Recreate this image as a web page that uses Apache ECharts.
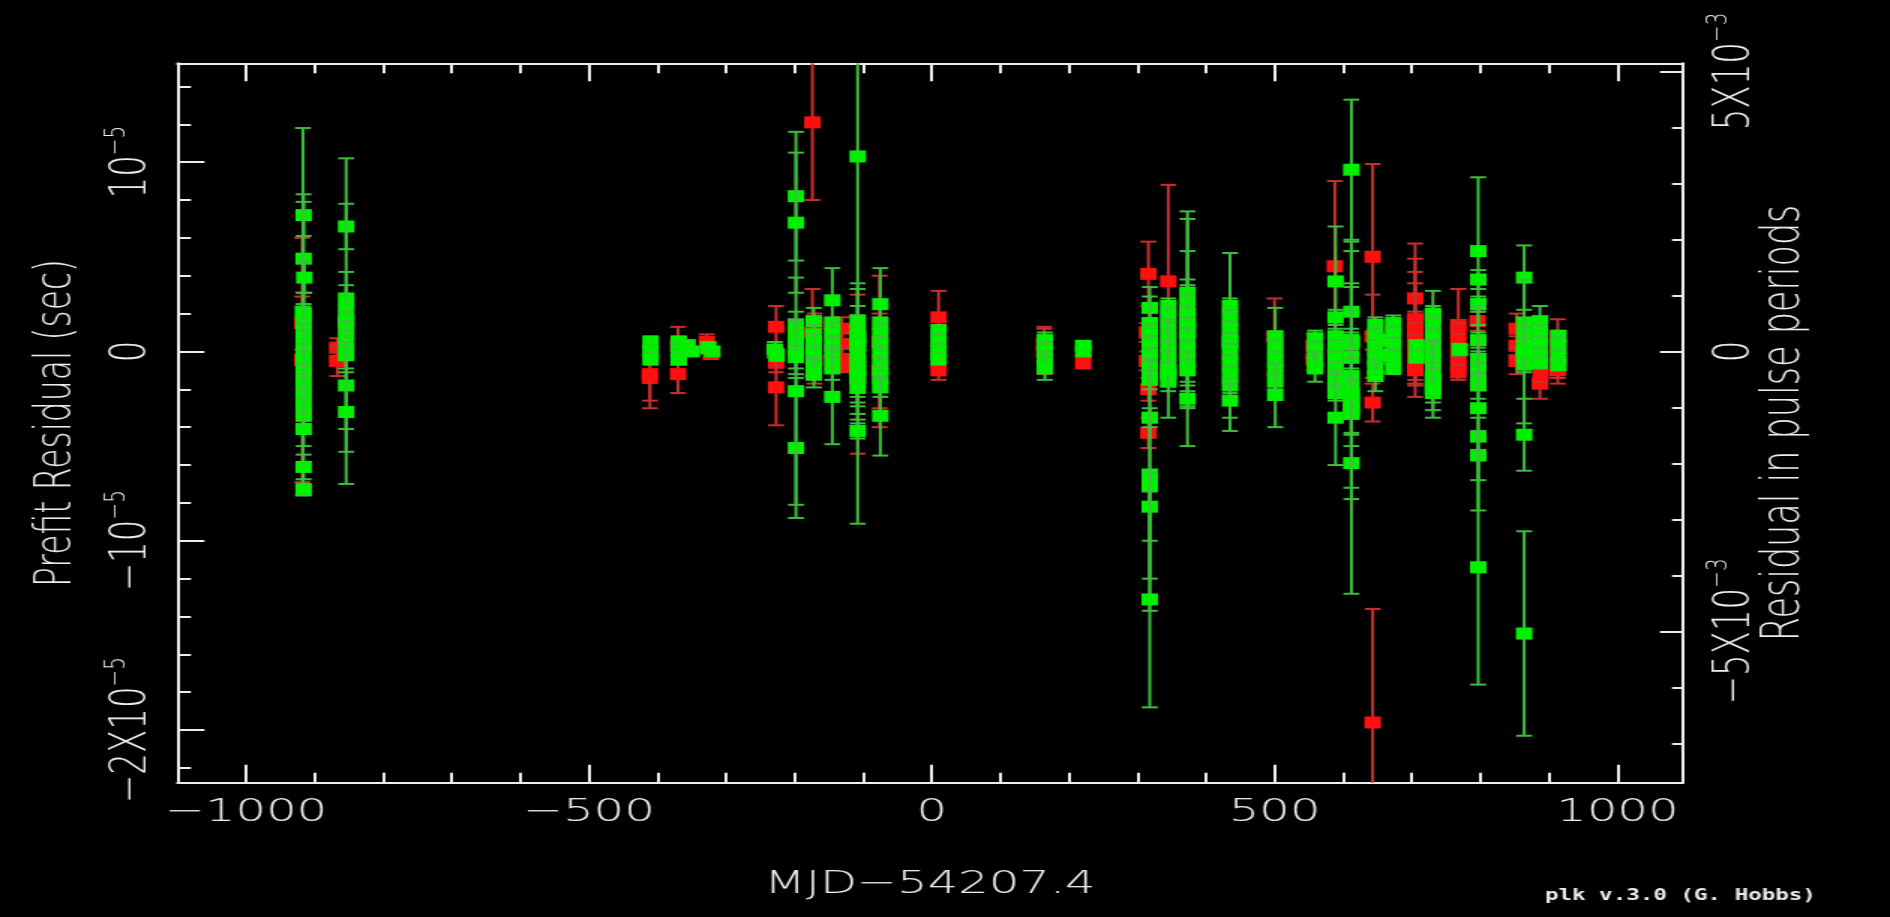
<!DOCTYPE html>
<html>
<head>
<meta charset="utf-8">
<title>plk – prefit timing residuals</title>
<script src="https://cdn.jsdelivr.net/npm/echarts@6.0.0/dist/echarts.min.js"></script>
<style>
  html, body { margin: 0; padding: 0; background: #000; overflow: hidden; }
  /* plk output is drawn on a narrow canvas and stretched horizontally */
  #plot { width: 1260px; height: 917px; transform: scaleX(1.5); transform-origin: 0 0; }
</style>
</head>
<body>
<div id="plot"></div>
<script>
// ---- axis ranges -------------------------------------------------------
const dayMin = -1100, dayMax = 1095;          // MJD - 54207.4
const resMin = -22.78, resMax = 15.22;        // prefit residual, microseconds
const periodUs = 2958;                        // spin period, microseconds

// ---- tick positions and labels ----------------------------------------
const dayMajor = [-1000, -500, 0, 500, 1000];
const dayMajorText = ['\u22121000', '\u2212500', '0', '500', '1000'];
const dayMinor = [-1000, -900, -800, -700, -600, -500, -400, -300, -200, -100, 0,
                  100, 200, 300, 400, 500, 600, 700, 800, 900, 1000];
const resMajor = [-20, -10, 0, 10];
const resMajorText = [['\u22122X10', '\u22125'], ['\u221210', '\u22125'], ['0', ''], ['10', '\u22125']];
const resMinor = [-22, -20, -18, -16, -14, -12, -10, -8, -6, -4, -2, 0, 2, 4, 6, 8, 10, 12, 14];
const phaseMajor = [-5, 0, 5];                // units of 1e-3 pulse periods
const phaseMajorText = [['\u22125X10', '\u22123'], ['0', ''], ['5X10', '\u22123']];
const phaseMinor = [-7, -6, -5, -4, -3, -2, -1, 0, 1, 2, 3, 4, 5];

// ---- TOAs: [day, residual (us), uncertainty (us)] ----------------------
const redToas = [
  [-918, -0.45, 6.45], [-918, 1.5, 1.4],
  [-867, 0.2, 0.5], [-867, -0.5, 0.8],
  [-411, -1.4, 1.6], [-411, -1.2, 1.4],
  [-370, -1.2, 1.0], [-370, 0.3, 1.0],
  [-328, 0.5, 0.4], [-322, -0.1, 0.3],
  [-227, 1.3, 1.1], [-227, -0.6, 0.5], [-227, -1.9, 2.0],
  [-174, 12.1, 4.1], [-174, 1.0, 2.3], [-171, 1.5, 0.5], [-171, -0.5, 1.2],
  [-131, 1.2, 0.6], [-131, 0.4, 0.6], [-131, -0.4, 0.6], [-131, -0.8, 0.3],
  [-108, -1.2, 4.2],
  [-76, 0.5, 3.5], [-76, -1.0, 3.0],
  [10, 1.8, 1.4], [10, -1.0, 0.5],
  [164, 0.4, 0.9], [164, 0.0, 1.2],
  [221, -0.6, 0.3],
  [316, 4.1, 1.7], [314, 1.0, 0.5], [314, -0.5, 0.5], [316, -2.0, 0.6], [316, -4.3, 0.8],
  [345, 3.7, 5.1],
  [500, 0.8, 2.0],
  [557, 0.3, 0.6], [557, -0.4, 0.6],
  [588, 4.5, 4.5],
  [643, 5.0, 4.9], [643, -2.7, 1.0], [643, -19.6, 6.0], [643, 0.8, 2.2],
  [705, 2.8, 2.9], [705, 1.6, 3.3], [705, 1.2, 3.0], [705, 0.6, 3.0], [705, 1.7, 0.4],
  [705, 1.1, 0.4], [705, 0.5, 0.4], [705, -0.1, 0.4], [705, -0.7, 0.4], [705, -1.0, 0.5],
  [768, 1.4, 1.9], [768, 1.1, 0.4], [768, 0.5, 0.4], [768, -0.1, 0.4], [768, -0.7, 0.4], [768, -1.1, 0.4],
  [796, 1.6, 0.5],
  [853, 1.2, 0.8], [853, 0.3, 0.5], [853, -0.5, 0.7],
  [887, -1.7, 0.8], [888, -1.2, 0.4],
  [913, 0.8, 0.9], [913, 0.2, 0.6], [913, -0.5, 0.9], [913, -1.0, 0.7]
];

const greenToas = [
  [-916, 7.2, 1.1], [-916, 4.9, 3.0], [-917, 2.1, 9.7], [-915, 3.9, 0.8],
  [-916, 2.0, 1.1], [-916, 1.4, 1.1], [-916, 0.8, 0.7], [-916, 0.2, 0.9], [-916, -0.4, 0.8],
  [-916, -1.0, 1.0], [-916, -1.6, 0.9], [-916, -2.2, 1.0], [-916, -2.8, 0.8], [-916, -3.4, 0.9],
  [-916, -4.1, 0.9], [-916, -6.1, 0.65], [-916, -7.3, 0.3],
  [-854, 6.6, 1.2], [-854, 1.6, 8.6], [-854, 2.8, 1.4], [-854, 2.2, 1.3], [-854, 1.6, 0.5],
  [-854, 1.0, 0.6], [-854, 0.4, 0.7], [-854, -0.2, 0.7], [-854, -1.8, 2.3], [-854, -3.2, 2.1],
  [-410, 0.5, 0.3], [-410, 0.0, 0.3], [-410, -0.4, 0.3],
  [-369, 0.5, 0.3], [-369, 0.0, 0.4], [-369, -0.4, 0.3], [-356, 0.3, 0.3], [-350, 0.0, 0.2],
  [-326, 0.2, 0.3], [-320, 0.0, 0.2],
  [-229, 0.1, 0.4], [-226, -0.2, 0.3],
  [-198, 8.2, 3.4], [-198, 6.8, 3.7], [-198, -5.1, 3.7], [-198, -2.1, 6.0],
  [-198, 1.4, 0.7], [-198, 0.8, 0.9], [-198, 0.2, 1.4], [-198, -0.3, 0.6],
  [-172, 1.6, 0.7], [-172, 0.9, 0.5], [-172, 0.3, 0.6], [-172, -0.3, 0.6], [-172, -0.9, 0.6], [-172, -1.2, 0.7],
  [-145, 2.7, 1.7], [-145, 1.5, 0.3], [-145, 0.9, 0.6], [-145, 0.3, 0.5], [-145, -0.3, 0.6],
  [-145, -0.9, 0.6], [-145, -2.4, 2.5],
  [-108, 10.3, 19.4], [-108, 0.6, 3.0], [-108, 0.3, 3.0], [-108, 0.8, 1.6], [-108, -0.5, 2.4],
  [-108, -1.0, 2.3], [-108, -1.3, 2.3], [-108, 1.6, 0.3], [-108, 1.0, 0.3], [-108, 0.4, 0.3],
  [-108, -0.2, 0.3], [-108, -0.8, 0.3], [-108, -1.4, 0.3], [-108, -1.9, 0.3], [-108, -4.2, 0.4],
  [-75, 2.5, 1.9], [-75, 1.5, 0.3], [-75, 0.9, 0.6], [-75, 0.3, 0.5], [-75, -0.3, 0.6],
  [-75, -0.9, 0.6], [-75, -1.4, 0.6], [-75, -1.9, 0.5], [-75, -3.4, 2.1],
  [10, 1.1, 0.3], [10, 0.5, 0.4], [10, 0.0, 0.4], [10, -0.4, 0.3],
  [165, 0.6, 0.4], [165, 0.0, 0.5], [165, -0.5, 0.5], [165, -0.9, 0.6],
  [221, 0.3, 0.2], [221, 0.0, 0.2],
  [318, 2.3, 0.6], [318, 1.5, 1.9], [318, 0.9, 0.5], [318, 0.3, 0.5], [318, -0.3, 0.5],
  [318, -0.9, 0.5], [318, -1.5, 0.5], [318, -3.5, 0.5], [318, -6.5, 5.5], [318, -7.1, 6.6],
  [318, -8.2, 1.8], [318, -13.1, 5.7],
  [345, 2.4, 0.4], [345, 1.8, 0.5], [345, 1.2, 0.5], [345, 0.6, 0.5], [345, 0.0, 0.5],
  [345, -0.6, 0.6], [345, -1.2, 0.6], [345, -1.6, 0.5], [345, -1.0, 2.5],
  [373, 1.2, 6.2], [373, 2.0, 5.0], [373, 1.5, 3.8], [373, 1.0, 2.8], [373, 3.1, 0.4],
  [373, 2.5, 0.5], [373, 1.9, 0.5], [373, 1.3, 0.5], [373, 0.7, 0.5], [373, 0.1, 0.5],
  [373, -0.5, 0.5], [373, -1.0, 0.6], [373, -2.5, 0.4],
  [435, 0.5, 4.7], [435, 2.4, 0.4], [435, 1.8, 0.4], [435, 1.2, 0.4], [435, 0.6, 0.4],
  [435, 0.0, 0.4], [435, -0.6, 0.4], [435, -1.2, 0.4], [435, -1.8, 0.4], [435, -2.6, 0.9],
  [501, 0.8, 1.5], [501, 0.2, 0.4], [501, -0.4, 0.4], [501, -1.0, 0.4], [501, -1.6, 0.4], [501, -2.3, 1.7],
  [559, 0.7, 0.4], [559, 0.1, 0.4], [559, -0.5, 0.5], [559, -0.9, 0.7],
  [589, 3.7, 2.9], [589, 1.8, 0.4], [589, 0.8, 0.4], [589, 0.2, 0.4], [589, -0.4, 0.4],
  [589, -1.0, 0.4], [589, -1.6, 0.4], [589, -2.2, 0.4], [589, -3.5, 2.5],
  [612, 9.6, 3.7], [612, 2.1, 3.7], [612, 0.5, 4.8], [612, 0.6, 3.0], [612, 0.4, 0.3],
  [612, -0.3, 0.3], [612, -1.3, 0.4], [612, -1.9, 0.4], [612, -2.5, 0.4], [612, -3.1, 0.4],
  [612, -3.3, 1.1], [612, -2.7, 2.3], [612, -5.9, 6.9], [612, -3.0, 4.2], [612, -2.2, 5.6],
  [647, 1.4, 0.4], [647, 0.8, 0.4], [647, 0.2, 0.4], [647, -0.4, 0.4], [647, -0.9, 0.4], [647, -1.3, 0.8],
  [660, 0.6, 0.3], [660, -0.2, 0.3],
  [673, 1.5, 0.4], [673, 0.9, 0.4], [673, 0.3, 0.4], [673, -0.3, 0.4], [673, -0.9, 0.3],
  [707, 0.3, 0.3], [707, -0.3, 0.3],
  [731, 1.9, 1.3], [731, 2.0, 0.4], [731, 1.4, 0.4], [731, 0.8, 0.4], [731, 0.2, 0.4],
  [731, -0.4, 0.4], [731, -1.0, 0.4], [731, -1.6, 0.4], [731, -2.2, 0.5], [731, -1.5, 2.0], [731, -2.0, 1.1],
  [770, 0.1, 0.3],
  [797, 5.3, 3.9], [797, 3.8, 0.5], [797, 2.5, 0.4], [797, 0.6, 0.4], [797, -0.4, 0.4],
  [797, -1.0, 0.4], [797, -1.6, 0.4], [797, -1.8, 0.7], [797, -4.5, 1.0], [797, -5.5, 1.3],
  [797, -11.4, 6.2], [797, -3.0, 5.4],
  [864, 3.9, 1.7], [864, 1.5, 0.3], [864, 0.9, 0.4], [864, 0.3, 0.4], [864, -0.3, 0.4],
  [864, -0.7, 0.4], [864, -4.4, 1.9], [864, 0.0, 3.8], [864, -14.9, 5.4],
  [887, 1.6, 0.8], [887, 1.0, 0.4], [887, 0.4, 0.4], [887, -0.2, 0.4], [887, -0.6, 0.3],
  [914, 0.8, 0.3], [914, 0.3, 0.4], [914, -0.3, 0.4], [914, -0.7, 0.3]
];

// ---- styling -----------------------------------------------------------
const INK = '#ededed';
const FONT = "'DejaVu Sans', 'Liberation Sans', sans-serif";
const SQ_W = 11, SQ_H = 12, CAP = 5.3, BAR_W = 2;

function labelLookup(values, texts) {
  return function (v) {
    const i = values.findIndex(t => Math.abs(t - v) < 1e-6);
    if (i < 0) return '';
    const [base, sup] = texts[i];
    return sup ? '{m|' + base + '}{s|' + sup + '}' : '{m|' + base + '}';
  };
}

const richLabel = {
  m: { fontSize: 34, lineHeight: 42, fontFamily: FONT, fontWeight: 200, color: INK },
  s: { fontSize: 20, lineHeight: 20, verticalAlign: 'top', fontFamily: FONT, fontWeight: 200, color: INK }
};

function tickAxis(position, min, max, values, length, withLine) {
  return {
    type: 'value', position, min, max,
    axisLine: { show: withLine, onZero: false, lineStyle: { color: INK, width: 2 } },
    axisTick: { show: true, inside: true, length, customValues: values, lineStyle: { color: INK, width: 2 } },
    axisLabel: { show: false },
    splitLine: { show: false }
  };
}

// error bars with end caps and a filled square at each TOA
function errorBarSeries(name, rows, markColor, barColor) {
  return {
    type: 'custom', name, data: rows,
    xAxisIndex: 0, yAxisIndex: 0,
    encode: { x: 0, y: 1 },
    silent: true, animation: false,
    renderItem(params, api) {
      const d = api.value(0), r = api.value(1), e = api.value(2);
      const c = api.coord([d, r]);
      const hi = api.coord([d, r + e])[1];
      const lo = api.coord([d, r - e])[1];
      const box = params.coordSys;
      const top = box.y, bottom = box.y + box.height;
      const stroke = { stroke: barColor, lineWidth: BAR_W };
      const kids = [];
      const y1 = Math.max(hi, top), y2 = Math.min(lo, bottom);
      if (y2 > y1) kids.push({ type: 'line', shape: { x1: c[0], y1, x2: c[0], y2 }, style: stroke });
      if (hi >= top) kids.push({ type: 'line', shape: { x1: c[0] - CAP, y1: hi, x2: c[0] + CAP, y2: hi }, style: stroke });
      if (lo <= bottom) kids.push({ type: 'line', shape: { x1: c[0] - CAP, y1: lo, x2: c[0] + CAP, y2: lo }, style: stroke });
      if (c[1] >= top && c[1] <= bottom) {
        kids.push({ type: 'rect', shape: { x: c[0] - SQ_W / 2, y: c[1] - SQ_H / 2, width: SQ_W, height: SQ_H },
                    style: { fill: markColor } });
      }
      return { type: 'group', children: kids };
    }
  };
}

const phaseMin = resMin * 1000 / periodUs;
const phaseMax = resMax * 1000 / periodUs;

const chart = echarts.init(document.getElementById('plot'), null, { renderer: 'canvas' });

const bottomAxis = tickAxis('bottom', dayMin, dayMax, dayMajor, 18, true);
bottomAxis.axisLabel = {
  show: true, customValues: dayMajor, margin: 14,
  formatter: v => dayMajorText[dayMajor.indexOf(v)] || '',
  color: INK, fontSize: 32, lineHeight: 32, fontFamily: FONT, fontWeight: 200
};
bottomAxis.name = 'MJD\u221254207.4';
bottomAxis.nameLocation = 'middle';
bottomAxis.nameGap = 82;
bottomAxis.nameMoveOverlap = false;
bottomAxis.nameTextStyle = { color: INK, fontSize: 32, lineHeight: 40, fontFamily: FONT, fontWeight: 200 };

const leftAxis = tickAxis('left', resMin, resMax, resMajor, 18, true);
leftAxis.axisLabel = {
  show: true, customValues: resMajor, rotate: 90, margin: 9,
  formatter: labelLookup(resMajor, resMajorText), rich: richLabel
};
leftAxis.name = 'Prefit Residual (sec)';
leftAxis.nameLocation = 'middle';
leftAxis.nameRotate = 90;
leftAxis.nameGap = 60;
leftAxis.nameMoveOverlap = false;
leftAxis.nameTextStyle = { color: INK, fontSize: 33, lineHeight: 40, fontFamily: FONT, fontWeight: 200 };

const rightAxis = tickAxis('right', phaseMin, phaseMax, phaseMajor, 15, true);
rightAxis.axisLabel = {
  show: true, customValues: phaseMajor, rotate: 90, margin: 14,
  formatter: labelLookup(phaseMajor, phaseMajorText), rich: richLabel
};
rightAxis.name = 'Residual in pulse periods';
rightAxis.nameLocation = 'middle';
rightAxis.nameRotate = 90;
rightAxis.nameGap = 48;
rightAxis.nameMoveOverlap = false;
rightAxis.nameTextStyle = { color: INK, fontSize: 35, lineHeight: 40, fontFamily: FONT, fontWeight: 200 };

chart.setOption({
  backgroundColor: '#000',
  animation: false,
  grid: { left: 118.3, right: 138.3, top: 63.3, bottom: 134.3, containLabel: false },
  xAxis: [
    bottomAxis,
    tickAxis('bottom', dayMin, dayMax, dayMinor, 10, false),
    tickAxis('top', dayMin, dayMax, dayMajor, 18, true),
    tickAxis('top', dayMin, dayMax, dayMinor, 10, false)
  ],
  yAxis: [
    leftAxis,
    tickAxis('left', resMin, resMax, resMinor, 9, false),
    rightAxis,
    tickAxis('right', phaseMin, phaseMax, phaseMinor, 7, false)
  ],
  series: [
    errorBarSeries('red', redToas, '#ff1010', '#c83030'),
    errorBarSeries('green', greenToas, '#00f000', '#3cc03c')
  ],
  graphic: [{
    type: 'text', left: 1030, top: 889,
    style: { text: 'plk v.3.0 (G. Hobbs)', fill: INK, font: 'bold 15px "DejaVu Sans Mono", monospace' }
  }]
});
</script>
</body>
</html>
